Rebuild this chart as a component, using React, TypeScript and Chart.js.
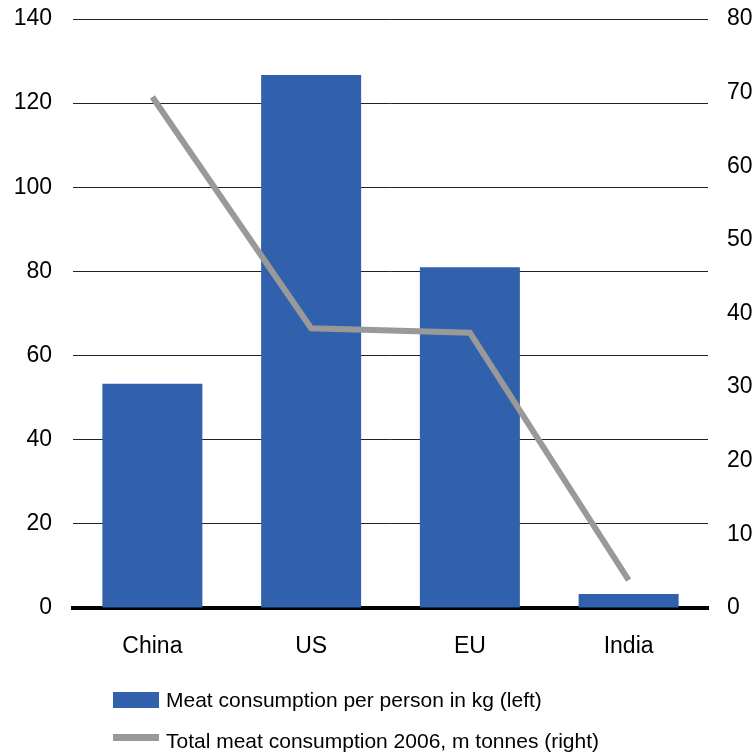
import React, { useEffect, useRef } from "react";
import { Chart, registerables } from "chart.js";

Chart.register(...registerables);

const categories = ["China", "US", "EU", "India"];
const perPersonKg = [53.3, 126.7, 81, 3.3];
const totalMillionTonnes = [69.4, 38.0, 37.4, 3.8];
const barLabel = "Meat consumption per person in kg (left)";
const lineLabel = "Total meat consumption 2006, m tonnes (right)";

const BAR_COLOR = "#3161AC";
const LINE_COLOR = "#999999";
const FONT = "'Liberation Sans', Arial, sans-serif";
const TICK_SIZE = 23;

export default function App() {
  const ref = useRef<HTMLCanvasElement | null>(null);
  useEffect(() => {
    if (!ref.current) return;
    const chart = new Chart(ref.current, {
      type: "bar",
      data: {
        labels: categories,
        datasets: [
          {
            type: "line",
            label: lineLabel,
            data: totalMillionTonnes,
            yAxisID: "y1",
            borderColor: LINE_COLOR,
            backgroundColor: LINE_COLOR,
            borderWidth: 6,
            pointRadius: 0,
            tension: 0,
            order: 0,
          } as any,
          {
            type: "bar",
            label: barLabel,
            data: perPersonKg,
            yAxisID: "y",
            backgroundColor: BAR_COLOR,
            barPercentage: 0.63,
            categoryPercentage: 1,
            order: 1,
          },
        ],
      },
      options: {
        responsive: false,
        animation: false,
        layout: { padding: { top: 19, left: 0, right: 0, bottom: 0 } },
        plugins: { legend: { display: false }, tooltip: { enabled: false } },
        scales: {
          x: {
            grid: { display: false, drawTicks: false },
            border: { display: true, color: "#000", width: 4 },
            ticks: { color: "#000", font: { family: FONT, size: TICK_SIZE }, padding: 25 },
            afterFit: (s: any) => { s.height = 756 - 608; s.paddingLeft = 0; s.paddingRight = 0; },
          },
          y: {
            position: "left",
            min: 0,
            max: 140,
            ticks: { stepSize: 20, color: "#000", font: { family: FONT, size: TICK_SIZE }, padding: 21 },
            grid: { color: "#222", lineWidth: 1, drawTicks: false },
            border: { display: false },
            afterFit: (s: any) => { s.width = 73; s.paddingTop = 0; s.paddingBottom = 0; },
          },
          y1: {
            position: "right",
            min: 0,
            max: 80,
            ticks: { stepSize: 10, color: "#000", font: { family: FONT, size: TICK_SIZE }, padding: 19 },
            grid: { display: false, drawTicks: false },
            border: { display: false },
            afterFit: (s: any) => { s.width = 755 - 708; s.paddingTop = 0; s.paddingBottom = 0; },
          },
        },
      },
    });
    return () => chart.destroy();
  }, []);

  const textStyle: React.CSSProperties = {
    position: "absolute",
    left: 166,
    fontFamily: FONT,
    fontSize: 21,
    color: "#000",
    lineHeight: "24px",
    whiteSpace: "nowrap",
  };

  return (
    <div style={{ position: "absolute", left: 0, top: 0, width: 755, height: 756, background: "#fff" }}>
      <canvas ref={ref} width={755} height={756} style={{ position: "absolute", left: 0, top: 0 }} />
      <div style={{ position: "absolute", left: 113, top: 692, width: 46, height: 16, background: BAR_COLOR }} />
      <div style={{ ...textStyle, top: 688 }}>{barLabel}</div>
      <div style={{ position: "absolute", left: 113, top: 734, width: 46, height: 7, background: LINE_COLOR }} />
      <div style={{ ...textStyle, top: 729 }}>{lineLabel}</div>
    </div>
  );
}
